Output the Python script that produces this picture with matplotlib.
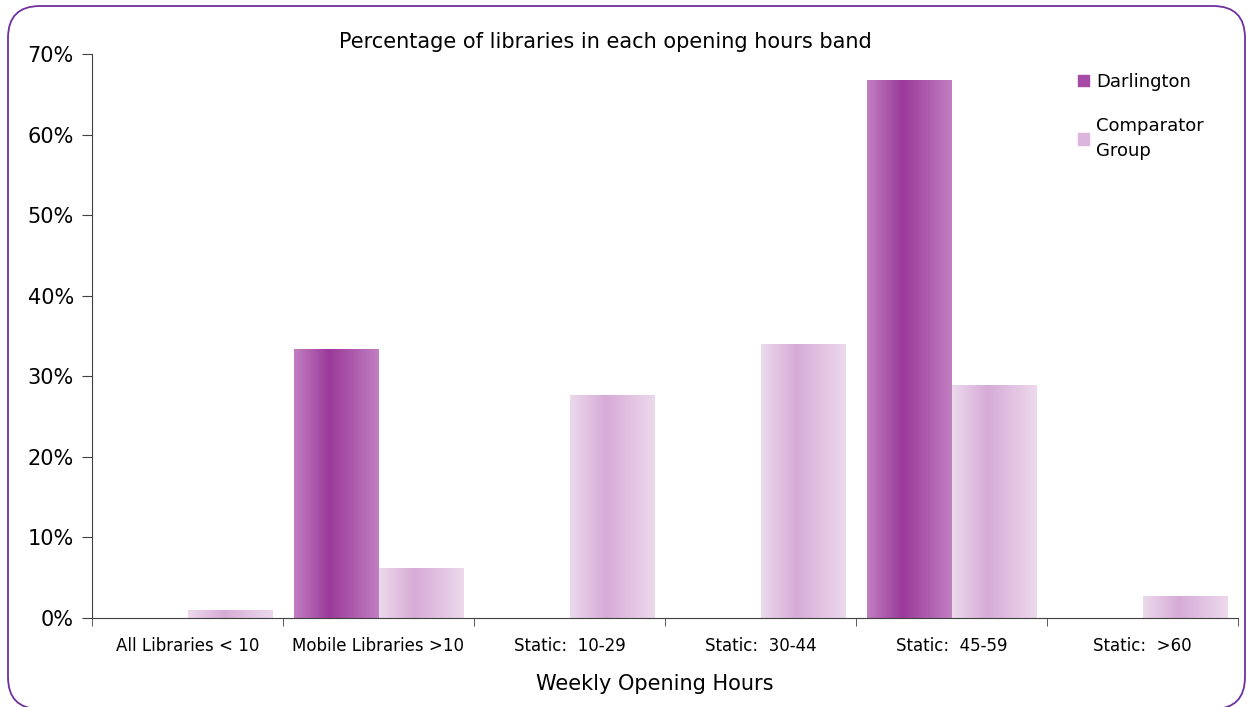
#grouped bar chart of library opening hours, darlington vs comparator group
import numpy as np
import matplotlib
matplotlib.use("Agg")
from matplotlib import pyplot as plt
from matplotlib.patches import FancyBboxPatch
from matplotlib.ticker import PercentFormatter
from matplotlib.colors import LinearSegmentedColormap

#data (percent)
categories = ["All Libraries < 10", "Mobile Libraries >10", "Static:  10-29",
              "Static:  30-44", "Static:  45-59", "Static:  >60"]
darlington = [0, 33.3, 0, 0, 66.7, 0]
comparator = [0.9, 6.2, 27.6, 33.9, 28.8, 2.7]

plt.rcParams['font.family'] = ['DejaVu Sans']

fig = plt.figure(figsize=(12.48, 7.07), dpi=100)
ax = fig.add_axes([92/1248, 1 - 618/707, (1238 - 92)/1248, (618 - 54)/707])

x = np.arange(len(categories))
w = 0.445
bars_d = ax.bar(x - w/2, darlington, w, color="#b060b0", label="Darlington")
bars_c = ax.bar(x + w/2, comparator, w, color="#dcb4dc", label="Comparator\nGroup")

#horizontal gradient fill for each bar, dark band a bit left of centre
def gradient_cmap(edge, mid):
    return LinearSegmentedColormap.from_list("g", [(0, edge), (0.42, mid), (1, edge)])

cm_d = gradient_cmap("#c17fc1", "#9b399b")
cm_c = gradient_cmap("#ecd9ec", "#d7abd7")
grad = np.linspace(0, 1, 256).reshape(1, -1)
for bars, cm in ((bars_d, cm_d), (bars_c, cm_c)):
    for b in bars:
        h = b.get_height()
        if h <= 0:
            continue
        x0 = b.get_x()
        b.set_alpha(0)
        ax.imshow(grad, cmap=cm, extent=[x0, x0 + b.get_width(), 0, h],
                  aspect="auto", interpolation="bicubic", zorder=2)

ax.set_xlim(-0.5, len(categories) - 0.5)
ax.set_ylim(0, 70)
ax.set_yticks(np.arange(0, 71, 10))
ax.yaxis.set_major_formatter(PercentFormatter(decimals=0))
ax.set_xticks(x)
ax.set_xticklabels(categories, fontsize=12)
ax.set_xticks(np.arange(-0.5, len(categories), 1), minor=True)
ax.tick_params(axis="x", which="major", length=0, pad=14)
ax.tick_params(axis="x", which="minor", length=6, color="#404040", direction="out")
ax.tick_params(axis="y", length=7, color="#404040", labelsize=15, pad=6)

for side in ("top", "right"):
    ax.spines[side].set_visible(False)
for side in ("left", "bottom"):
    ax.spines[side].set_color("#404040")

ax.set_xlabel("Weekly Opening Hours", fontsize=15)
ax.xaxis.set_label_coords((655 - 92) / (1238 - 92), -(684 - 618) / (618 - 54), transform=ax.transAxes)
ax.xaxis.label.set_va("center")
fig.text(605/1248, 1 - 42/707, "Percentage of libraries in each opening hours band",
         ha="center", va="center", fontsize=15)

leg = ax.legend(loc="upper left", bbox_to_anchor=(0.846, 0.995), frameon=False,
                fontsize=13, handlelength=0.6, handleheight=0.6, handletextpad=0.4,
                labelspacing=1.45)
leg.legend_handles[0].set_color("#a54aa5")
leg.legend_handles[0].set_alpha(1)
leg.legend_handles[1].set_color("#dcb4dc")
leg.legend_handles[1].set_alpha(1)
for t in leg.get_texts():
    t.set_linespacing(1.45)

#rounded purple frame round the whole picture, in pixel coordinates
frame = FancyBboxPatch((8, -2), 1237, 703, boxstyle="round,pad=0,rounding_size=32",
                       transform=None, fill=False, edgecolor="#7030a0", linewidth=1.3)
fig.patches.append(frame)

fig.savefig("out.png", dpi=100)
